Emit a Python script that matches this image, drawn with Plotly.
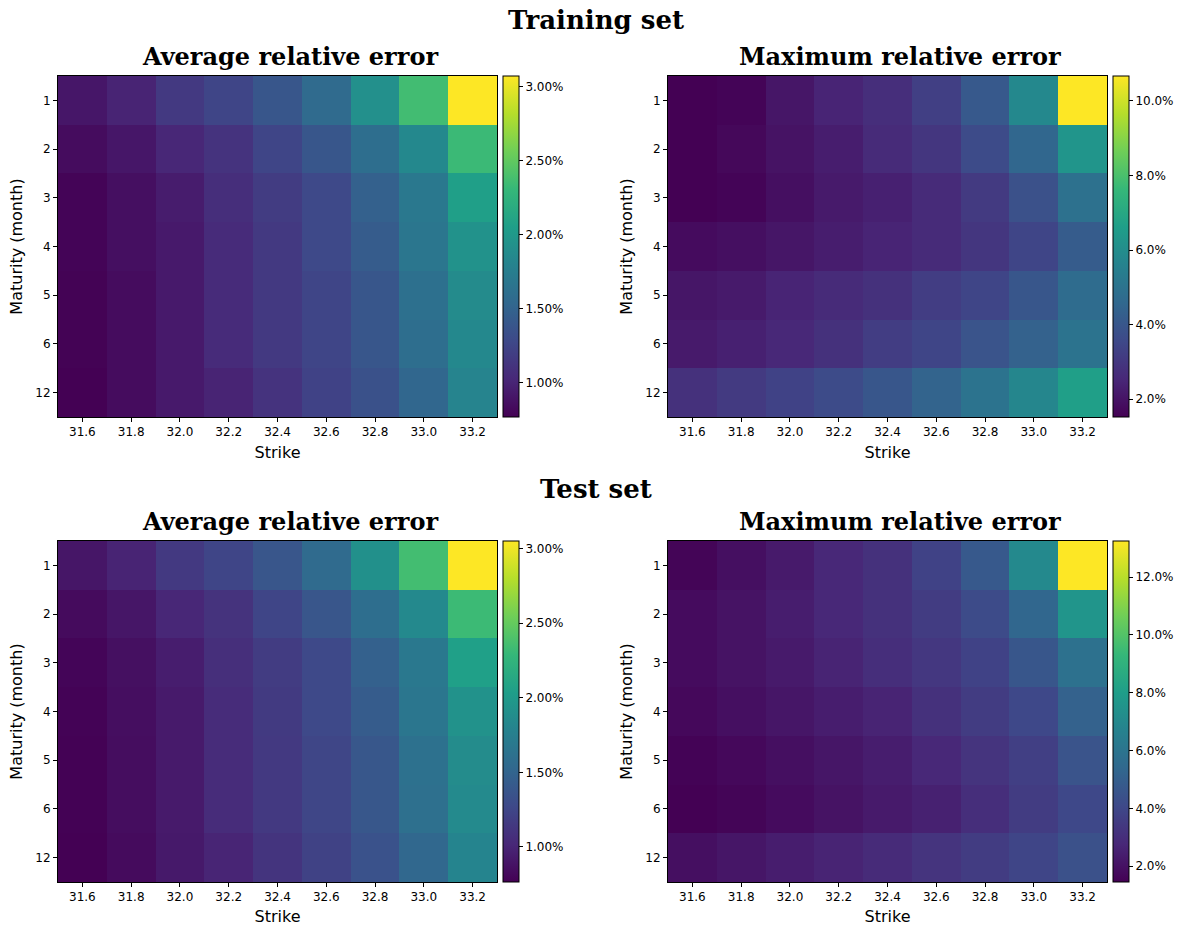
import plotly.graph_objects as go

W, H = 1191, 926

strikes = [31.6, 31.8, 32.0, 32.2, 32.4, 32.6, 32.8, 33.0, 33.2]
strike_labels = ["31.6", "31.8", "32.0", "32.2", "32.4", "32.6", "32.8", "33.0", "33.2"]
maturities = ["1", "2", "3", "4", "5", "6", "12"]

# Relative errors in percent (rows = maturities, columns = strikes)
train_avg = [
    [0.91, 1.00, 1.16, 1.25, 1.39, 1.57, 1.92, 2.36, 3.07],
    [0.84, 0.91, 1.02, 1.11, 1.25, 1.39, 1.60, 1.85, 2.33],
    [0.79, 0.86, 0.95, 1.07, 1.18, 1.28, 1.48, 1.69, 2.06],
    [0.79, 0.86, 0.93, 1.05, 1.16, 1.28, 1.44, 1.67, 1.94],
    [0.78, 0.84, 0.93, 1.05, 1.16, 1.25, 1.39, 1.62, 1.87],
    [0.78, 0.84, 0.93, 1.05, 1.16, 1.25, 1.39, 1.60, 1.85],
    [0.77, 0.84, 0.93, 1.00, 1.11, 1.23, 1.35, 1.53, 1.81],
]
train_max = [
    [1.52, 1.60, 2.07, 2.44, 2.71, 3.26, 4.08, 5.82, 10.67],
    [1.52, 1.70, 1.98, 2.25, 2.62, 2.98, 3.62, 4.54, 6.28],
    [1.52, 1.60, 1.89, 2.16, 2.34, 2.62, 3.08, 3.81, 4.91],
    [1.79, 1.89, 2.07, 2.25, 2.44, 2.62, 2.98, 3.44, 4.17],
    [2.07, 2.16, 2.44, 2.62, 2.80, 3.17, 3.44, 3.99, 4.72],
    [2.16, 2.34, 2.53, 2.80, 3.17, 3.44, 3.90, 4.36, 5.00],
    [2.80, 3.08, 3.35, 3.62, 3.99, 4.45, 5.00, 5.73, 6.64],
]
test_avg = [
    [0.90, 0.99, 1.15, 1.24, 1.38, 1.56, 1.91, 2.35, 3.05],
    [0.83, 0.90, 1.01, 1.10, 1.24, 1.38, 1.59, 1.84, 2.32],
    [0.79, 0.86, 0.95, 1.07, 1.17, 1.27, 1.47, 1.68, 2.05],
    [0.78, 0.85, 0.93, 1.05, 1.16, 1.27, 1.43, 1.66, 1.93],
    [0.77, 0.84, 0.93, 1.05, 1.15, 1.25, 1.39, 1.61, 1.87],
    [0.77, 0.84, 0.93, 1.05, 1.15, 1.25, 1.39, 1.60, 1.85],
    [0.765, 0.83, 0.92, 1.00, 1.11, 1.22, 1.35, 1.53, 1.80],
]
test_max = [
    [1.57, 1.92, 2.28, 2.75, 3.10, 3.81, 4.75, 7.00, 13.25],
    [1.80, 2.04, 2.39, 2.75, 3.10, 3.57, 4.16, 5.34, 7.59],
    [1.80, 2.04, 2.28, 2.63, 2.98, 3.34, 3.81, 4.64, 5.82],
    [1.69, 1.92, 2.16, 2.39, 2.63, 3.10, 3.57, 4.05, 5.11],
    [1.51, 1.69, 1.92, 2.16, 2.39, 2.75, 3.22, 3.69, 4.52],
    [1.45, 1.57, 1.80, 2.04, 2.28, 2.51, 2.98, 3.57, 4.05],
    [1.92, 2.16, 2.39, 2.63, 2.87, 3.22, 3.57, 3.93, 4.40],
]

panels = [
    dict(z=train_avg, title="Average relative error", fmt=".2f", dtick=0.5, px=(58, 497), py=(76, 417)),
    dict(z=train_max, title="Maximum relative error", fmt=".1f", dtick=2, px=(668, 1107), py=(76, 417)),
    dict(z=test_avg, title="Average relative error", fmt=".2f", dtick=0.5, px=(58, 497), py=(541, 882)),
    dict(z=test_max, title="Maximum relative error", fmt=".1f", dtick=2, px=(668, 1107), py=(541, 882)),
]

fig = go.Figure()
TICKFONT = dict(family="DejaVu Sans", size=12, color="black")
LABELFONT = dict(family="DejaVu Sans", size=16, color="black")
TITLEFONT = dict(family="DejaVu Serif", size=24, color="black")

layout = {}
for i, p in enumerate(panels):
    n = "" if i == 0 else str(i + 1)
    x0, x1 = p["px"]
    y0, y1 = p["py"]
    flat = [v for row in p["z"] for v in row]
    fig.add_trace(go.Heatmap(
        z=p["z"], x=strikes, y=maturities,
        colorscale="Viridis", zmin=min(flat), zmax=max(flat),
        xaxis="x" + n, yaxis="y" + n,
        colorbar=dict(
            x=(x1 + 6) / W, xanchor="left", y=1 - (y0 + y1) / 2 / H, yanchor="middle",
            len=(y1 - y0), lenmode="pixels", thickness=16, thicknessmode="pixels",
            outlinewidth=1, outlinecolor="black",
            ticks="outside", ticklen=4, tickcolor="black",
            tickformat=p["fmt"], ticksuffix="%", dtick=p["dtick"],
            tickfont=TICKFONT, xpad=0, ypad=0,
        ),
    ))
    layout["xaxis" + n] = dict(
        domain=[x0 / W, x1 / W], anchor="y" + n,
        range=[31.5, 33.3], tickvals=strikes, ticktext=strike_labels,
        ticks="outside", ticklen=4, tickcolor="black", tickfont=TICKFONT,
        showline=True, mirror=True, linecolor="black", linewidth=1,
        showgrid=False, zeroline=False,
        title=dict(text="Strike", font=LABELFONT, standoff=8),
    )
    layout["yaxis" + n] = dict(
        domain=[1 - y1 / H, 1 - y0 / H], anchor="x" + n,
        type="category", autorange="reversed",
        ticks="outside", ticklen=4, tickcolor="black", tickfont=TICKFONT,
        showline=True, mirror=True, linecolor="black", linewidth=1,
        showgrid=False, zeroline=False,
        title=dict(text="Maturity (month)", font=LABELFONT, standoff=8),
    )
    fig.add_annotation(
        x=((x0 + x1) / 2 + 12) / W, y=1 - (y0 - 20) / H, xref="paper", yref="paper",
        text="<b>" + p["title"] + "</b>", showarrow=False,
        font=TITLEFONT, xanchor="center", yanchor="middle",
    )

for text, ypx in [("Training set", 20), ("Test set", 489)]:
    fig.add_annotation(
        x=0.5, y=1 - ypx / H, xref="paper", yref="paper",
        text="<b>" + text + "</b>", showarrow=False,
        font=dict(family="DejaVu Serif", size=26, color="black"),
        xanchor="center", yanchor="middle",
    )

fig.update_layout(
    width=W, height=H,
    margin=dict(l=0, r=0, t=0, b=0),
    paper_bgcolor="white", plot_bgcolor="white",
    showlegend=False,
    **layout,
)

fig.write_html(
    "out.html",
    config={"displayModeBar": False},
    post_script="document.body.style.margin='0';document.body.style.overflow='hidden';",
)
